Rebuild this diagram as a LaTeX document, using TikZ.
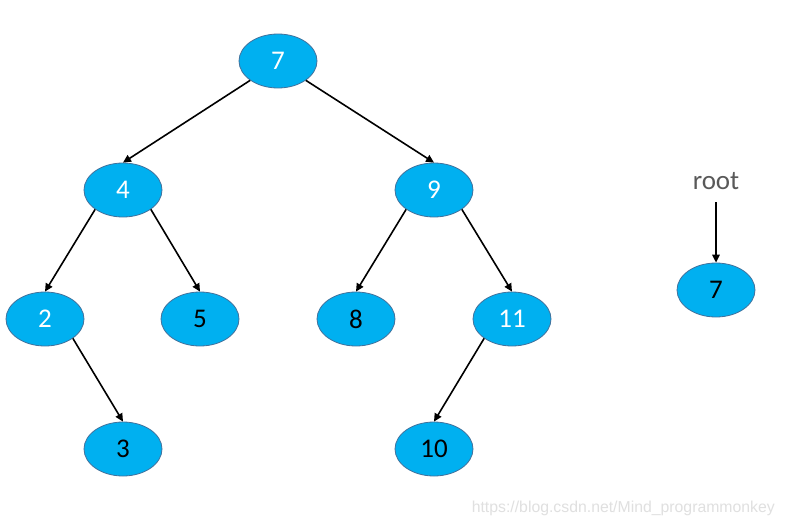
\documentclass[tikz,border=0pt]{standalone}
\usepackage{fontspec}
\setmainfont{Carlito}
\newfontfamily\urlfont{Liberation Sans}
\usetikzlibrary{shapes.geometric,arrows.meta}
\definecolor{nodefill}{HTML}{00B0F0}
\definecolor{nodeline}{HTML}{41719C}
\definecolor{roottext}{HTML}{595959}
\begin{document}
\begin{tikzpicture}[x=1pt,y=-1pt,
  tnode/.style={ellipse,draw=nodeline,line width=0.8pt,fill=nodefill,
    minimum width=78pt,minimum height=54pt,inner sep=0pt,font=\fontsize{27}{27}\selectfont},
  wtext/.style={text=white},
  btext/.style={text=black},
  edge/.style={draw=black,line width=1.6pt,-{Triangle[length=8pt,width=7.5pt]}}]
\useasboundingbox[fill=white] (0,0) rectangle (787,523);
\node[tnode,wtext] (n7) at (278,61) {7};
\node[tnode,wtext] (n4) at (123,190) {4};
\node[tnode,wtext] (n9) at (434,190) {9};
\node[tnode,wtext] (n2) at (45,319) {2};
\node[tnode,btext] (n5) at (200,319) {5};
\node[tnode,btext] (n8) at (356,319) {8};
\node[tnode,wtext] (n11) at (512,319) {11};
\node[tnode,btext] (n3) at (123,449) {3};
\node[tnode,btext] (n10) at (434,449) {10};
\node[tnode,btext] (r7) at (716,290) {7};
\node[text=roottext,font=\fontsize{27}{27}\selectfont,inner sep=0pt] (root) at (716,181) {root};
\coordinate (rootbot) at (716,202);
\draw[edge] (n7.south west) -- (n4.north);
\draw[edge] (n7.south east) -- (n9.north);
\draw[edge] (n4.south west) -- (n2.north);
\draw[edge] (n4.south east) -- (n5.north);
\draw[edge] (n9.south west) -- (n8.north);
\draw[edge] (n9.south east) -- (n11.north);
\draw[edge] (n2.south east) -- (n3.north);
\draw[edge] (n11.south west) -- (n10.north);
\draw[edge] (rootbot) -- (r7.north);
\node[anchor=base east,text=black!12,font=\urlfont\fontsize{15.8}{15.8}\selectfont,inner sep=0pt] (url) at (775,512) {https://blog.csdn.net/Mind\_programmonkey};
\end{tikzpicture}
\end{document}
